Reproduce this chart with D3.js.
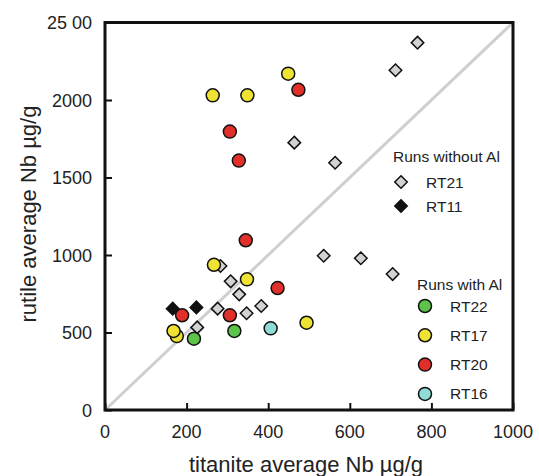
<!DOCTYPE html>
<html>
<head>
<meta charset="utf-8">
<title>rutile vs titanite Nb</title>
<script src="https://d3js.org/d3.v7.min.js"></script>
<style>
  body { margin: 0; background: #fff; }
  text { font-family: "Liberation Sans", Arial, Helvetica, sans-serif; fill: #222; }
</style>
</head>
<body>
<script>
// data (titanite Nb vs rutile Nb, µg/g)
const rt21X = [766, 712, 464, 564, 536, 627, 705, 283, 308, 329, 276, 347, 383, 226];
const rt21Y = [2370, 2192, 1725, 1595, 995, 979, 877, 929, 830, 746, 654, 624, 671, 533];
const rt11X = [166, 224];
const rt11Y = [654, 662];
const rt22X = [218, 317];
const rt22Y = [460, 510];
const rt17X = [264, 349, 449, 267, 348, 494, 176, 168];
const rt17Y = [2030, 2030, 2170, 937, 843, 563, 477, 510];
const rt20X = [474, 306, 328, 345, 423, 189, 306];
const rt20Y = [2066, 1796, 1609, 1095, 787, 611, 611];
const rt16X = [406];
const rt16Y = [527];

const xTicks = [0, 200, 400, 600, 800, 1000];
const yTicks = [0, 500, 1000, 1500, 2000, 2500];
const yTickLabels = ['0', '500', '1000', '1500', '2000', '25 00'];

const width = 539, height = 476;

const svg = d3.select('body').append('svg')
  .attr('width', width)
  .attr('height', height);

const x = d3.scaleLinear().domain([0, 1000]).range([105, 513]);
const y = d3.scaleLinear().domain([0, 2500]).range([410, 22.5]);

// corner to corner line
svg.append('line')
  .attr('x1', x(0)).attr('y1', y(0))
  .attr('x2', x(1000)).attr('y2', y(2500))
  .attr('stroke', '#cfcfcf')
  .attr('stroke-width', 3);

// axes, ticks pointing inward
const xAxis = svg.append('g')
  .attr('transform', `translate(0,${y(0)})`)
  .call(d3.axisTop(x).tickValues(xTicks).tickSize(7).tickFormat(''));
xAxis.select('.domain').remove();
xAxis.selectAll('line').attr('stroke', '#111').attr('stroke-width', 2);

const yAxis = svg.append('g')
  .attr('transform', `translate(${x(0)},0)`)
  .call(d3.axisRight(y).tickValues(yTicks).tickSize(7).tickFormat(''));
yAxis.select('.domain').remove();
yAxis.selectAll('line').attr('stroke', '#111').attr('stroke-width', 2);

svg.selectAll('.xlab').data(xTicks).enter().append('text')
  .attr('x', d => x(d))
  .attr('y', 438)
  .attr('text-anchor', 'middle')
  .style('font-size', '18px')
  .text(d => d);

svg.selectAll('.ylab').data(yTicks).enter().append('text')
  .attr('x', 92)
  .attr('y', d => y(d) + 6.5)
  .attr('text-anchor', 'end')
  .style('font-size', '18px')
  .text((d, i) => yTickLabels[i]);

svg.append('text')
  .attr('x', 306).attr('y', 472)
  .attr('text-anchor', 'middle')
  .style('font-size', '22px')
  .text('titanite average Nb µg/g');

svg.append('text')
  .attr('transform', 'translate(36,214) rotate(-90)')
  .attr('text-anchor', 'middle')
  .style('font-size', '22px')
  .text('rutile average Nb µg/g');

// frame
svg.append('rect')
  .attr('x', x(0)).attr('y', y(2500))
  .attr('width', x(1000) - x(0))
  .attr('height', y(0) - y(2500))
  .attr('fill', 'none')
  .attr('stroke', '#111')
  .attr('stroke-width', 3);

const diamond = d3.symbol().type(d3.symbolDiamond2).size(100);

function diamonds(xs, ys, fill) {
  svg.append('g').selectAll('path')
    .data(xs.map((v, i) => [v, ys[i]]))
    .enter().append('path')
    .attr('d', diamond)
    .attr('transform', d => `translate(${x(d[0])},${y(d[1])})`)
    .attr('fill', fill)
    .attr('stroke', '#111')
    .attr('stroke-width', 1.5);
}

function circles(xs, ys, fill) {
  svg.append('g').selectAll('circle')
    .data(xs.map((v, i) => [v, ys[i]]))
    .enter().append('circle')
    .attr('cx', d => x(d[0]))
    .attr('cy', d => y(d[1]))
    .attr('r', 6.5)
    .attr('fill', fill)
    .attr('stroke', '#111')
    .attr('stroke-width', 1.5);
}

const cGray = '#d2d2d2', cBlack = '#111111', cGreen = '#5cc449',
      cYellow = '#eee332', cRed = '#e1302a', cCyan = '#8edcd5';

diamonds(rt21X, rt21Y, cGray);
diamonds(rt11X, rt11Y, cBlack);
circles(rt22X, rt22Y, cGreen);
circles(rt17X, rt17Y, cYellow);
circles(rt20X, rt20Y, cRed);
circles(rt16X, rt16Y, cCyan);

// legends
svg.append('text').attr('x', 393).attr('y', 162)
  .style('font-size', '15.5px').text('Runs without Al');
const leg1 = [['RT21', cGray], ['RT11', cBlack]];
leg1.forEach((d, i) => {
  const cy = 182 + i * 24;
  svg.append('path').attr('d', diamond)
    .attr('transform', `translate(401,${cy})`)
    .attr('fill', d[1]).attr('stroke', '#111').attr('stroke-width', 1.5);
  svg.append('text').attr('x', 426).attr('y', cy + 5.5)
    .style('font-size', '15.5px').text(d[0]);
});

svg.append('text').attr('x', 417).attr('y', 290)
  .style('font-size', '15.5px').text('Runs with Al');
const leg2 = [['RT22', cGreen], ['RT17', cYellow], ['RT20', cRed], ['RT16', cCyan]];
leg2.forEach((d, i) => {
  const cy = 306 + i * 29.3;
  svg.append('circle').attr('cx', 425).attr('cy', cy).attr('r', 6.5)
    .attr('fill', d[1]).attr('stroke', '#111').attr('stroke-width', 1.5);
  svg.append('text').attr('x', 450).attr('y', cy + 5.5)
    .style('font-size', '15.5px').text(d[0]);
});
</script>
</body>
</html>
